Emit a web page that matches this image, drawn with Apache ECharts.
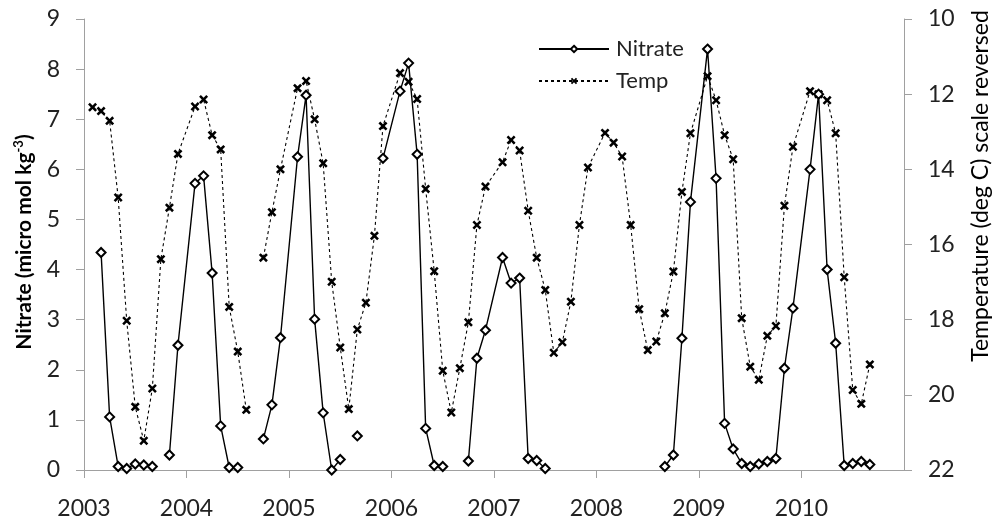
<!DOCTYPE html>
<html>
<head>
<meta charset="utf-8">
<script src="https://cdn.jsdelivr.net/npm/echarts@6/dist/echarts.min.js"></script>
<style>
html,body{margin:0;padding:0;background:#fff;}
#chart{width:995px;height:520px;}
</style>
</head>
<body>
<div id="chart"></div>
<script>
// month offsets from Jan 2003 (x = 2003 + month/12); null value = break in line
var nitrateMonths = [2,3,4,5,6,7,8,9,10,11,13,14,15,16,17,18,19,21,22,23,25,26,27,28,29,30,31,32,33,35,37,38,39,40,41,42,43,45,46,47,49,50,51,52,53,54,55,68,69,70,71,73,74,75,76,77,78,79,80,81,82,83,85,86,87,88,89,90,91,92];
var nitrateValues = [4.34,1.06,0.07,0.03,0.12,0.10,0.07,null,0.30,2.49,5.72,5.87,3.93,0.88,0.05,0.05,null,0.62,1.30,2.64,6.25,7.48,3.01,1.14,0.00,0.21,null,0.68,null,6.22,7.56,8.12,6.30,0.83,0.09,0.07,null,0.18,2.23,2.79,4.24,3.73,3.83,0.23,0.19,0.03,null,0.07,0.30,2.63,5.35,8.40,5.82,0.93,0.42,0.13,0.07,0.12,0.17,0.23,2.03,3.23,6.00,7.50,4.00,2.53,0.09,0.13,0.17,0.11];

var tempMonths = [1,2,3,4,5,6,7,8,9,10,11,13,14,15,16,17,18,19,20,21,22,23,25,26,27,28,29,30,31,32,33,34,35,37,38,39,40,41,42,43,44,45,46,47,49,50,51,52,53,54,55,56,57,58,59,61,62,63,64,65,66,67,68,69,70,71,73,74,75,76,77,78,79,80,81,82,83,85,86,87,88,89,90,91,92];
var tempValues = [12.35,12.45,12.71,14.75,18.03,20.32,21.22,19.83,16.39,15.02,13.59,12.33,12.14,13.09,13.47,17.66,18.85,20.40,null,16.35,15.14,14.00,11.84,11.65,12.67,13.84,16.99,18.74,20.38,18.26,17.55,15.77,12.85,11.44,11.67,12.13,14.52,16.71,19.36,20.47,19.29,18.07,15.48,14.46,13.81,13.22,13.50,15.10,16.35,17.21,18.88,18.60,17.52,15.48,13.95,13.03,13.29,13.66,15.48,17.72,18.81,18.58,17.83,16.72,14.60,13.04,11.52,12.16,13.09,13.73,17.96,19.25,19.60,18.43,18.17,14.97,13.40,11.92,12.00,12.16,13.04,16.87,19.87,20.24,19.19];

var yearTicks = [2003,2004,2005,2006,2007,2008,2009,2010];
var startYear = 2003;

function pairs(months, values){
  return months.map(function(m,i){ return [startYear + m/12, values[i]]; });
}

var FONT = 'Lato';
var AXIS_COLOR = '#a0a0a0';
var TEXT_COLOR = '#222';
var crossPath = 'path://M0,2 L2,0 L5,3 L8,0 L10,2 L7,5 L10,8 L8,10 L5,7 L2,10 L0,8 L3,5 Z';

var chart = echarts.init(document.getElementById('chart'), null, {renderer:'canvas'});
chart.setOption({
  animation: false,
  backgroundColor: '#fff',
  textStyle: {fontFamily: FONT},
  grid: {left: 84, right: 91, top: 19, bottom: 50, containLabel: false, outerBoundsMode: 'none'},
  legend: {
    orient: 'vertical',
    left: 533,
    top: 33,
    itemWidth: 70,
    itemHeight: 8,
    itemGap: 10,
    textStyle: {fontFamily: FONT, fontSize: 22, color: TEXT_COLOR, lineHeight: 22, padding: [0,0,0,2]},
    data: ['Nitrate', 'Temp']
  },
  xAxis: {
    type: 'value',
    min: 2003,
    max: 2011,
    interval: 1,
    axisLine: {show: true, lineStyle: {color: AXIS_COLOR, width: 1}},
    axisTick: {show: true, inside: false, length: 8, lineStyle: {color: AXIS_COLOR}, customValues: yearTicks},
    axisLabel: {show: true, margin: 27, fontSize: 23, fontFamily: FONT, color: TEXT_COLOR, showMaxLabel: false,
      formatter: function(v){ return v >= 2011 ? '' : String(Math.round(v)); }},
    splitLine: {show: false}
  },
  yAxis: [
    {
      type: 'value', min: 0, max: 9, interval: 1, position: 'left',
      axisLine: {show: true, lineStyle: {color: AXIS_COLOR, width: 1}},
      axisTick: {show: true, inside: false, length: 8, lineStyle: {color: AXIS_COLOR}},
      axisLabel: {margin: 24, fontSize: 23, fontFamily: FONT, color: TEXT_COLOR},
      splitLine: {show: false}
    },
    {
      type: 'value', min: 10, max: 22, interval: 2, position: 'right', inverse: true,
      axisLine: {show: true, lineStyle: {color: AXIS_COLOR, width: 1}},
      axisTick: {show: true, inside: false, length: 8, lineStyle: {color: AXIS_COLOR}},
      axisLabel: {margin: 24, fontSize: 23, fontFamily: FONT, color: TEXT_COLOR},
      splitLine: {show: false}
    }
  ],
  series: [
    {
      name: 'Temp',
      type: 'line',
      yAxisIndex: 1,
      data: pairs(tempMonths, tempValues),
      connectNulls: false,
      showAllSymbol: true,
      symbol: crossPath,
      symbolSize: 9,
      lineStyle: {color: '#000', width: 1.1, type: [3,3]},
      itemStyle: {color: '#000'},
      z: 2
    },
    {
      name: 'Nitrate',
      type: 'line',
      yAxisIndex: 0,
      data: pairs(nitrateMonths, nitrateValues),
      connectNulls: false,
      showAllSymbol: true,
      symbol: 'diamond',
      symbolSize: 9,
      lineStyle: {color: '#000', width: 1.4},
      itemStyle: {color: '#fff', borderColor: '#000', borderWidth: 2},
      z: 3
    }
  ],
  graphic: [
    {
      type: 'text',
      x: 24, y: 242,
      rotation: Math.PI / 2,
      style: {
        text: 'Nitrate (micro mol kg{sup|-3})',
        fontFamily: FONT, fontSize: 21, fontWeight: 'bold',
        fill: '#000',
        align: 'center', verticalAlign: 'middle',
        textAlign: 'center', textVerticalAlign: 'middle',
        rich: {sup: {fontSize: 13, fontWeight: 'bold', fontFamily: FONT, fill: '#000', verticalAlign: 'top', lineHeight: 24}}
      }
    },
    {
      type: 'text',
      x: 981, y: 186,
      rotation: Math.PI / 2,
      style: {
        text: 'Temperature (deg C) scale reversed',
        fontFamily: FONT, fontSize: 23,
        fill: '#000',
        align: 'center', verticalAlign: 'middle',
        textAlign: 'center', textVerticalAlign: 'middle'
      }
    }
  ]
});
</script>
</body>
</html>
